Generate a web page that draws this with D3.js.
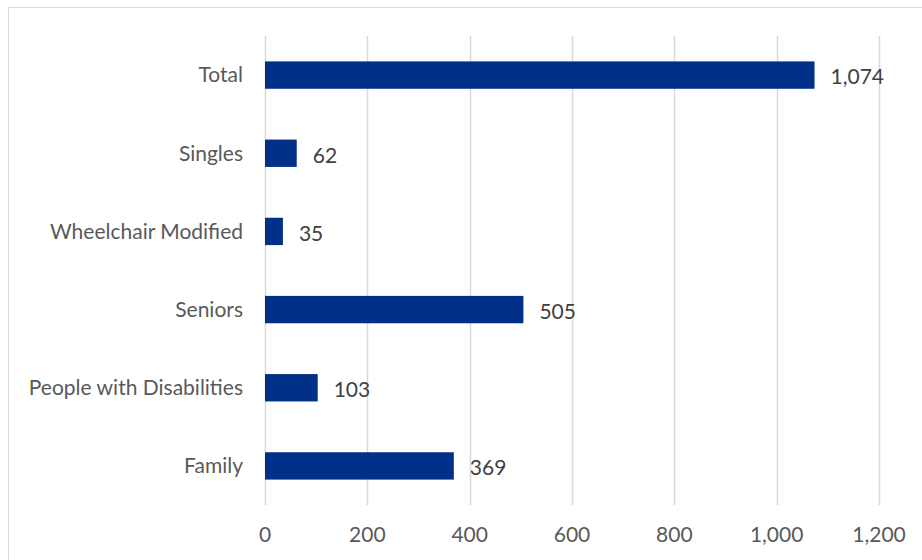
<!DOCTYPE html>
<html>
<head>
<meta charset="utf-8">
<script src="https://cdn.jsdelivr.net/npm/d3@7"></script>
<style>
  body { margin: 0; background: #fff; }
  svg { display: block; font-family: Lato, "Open Sans", sans-serif; }
</style>
</head>
<body>
<svg id="chart" width="922" height="560"></svg>
<script>
const categories = ["Total", "Singles", "Wheelchair Modified", "Seniors", "People with Disabilities", "Family"];
const values = [1074, 62, 35, 505, 103, 369];
const ticks = [0, 200, 400, 600, 800, 1000, 1200];

const svg = d3.select("#chart");
const margin = {top: 36, left: 265, right: 43, bottom: 55};
const width = 922, height = 560;

// frame
svg.append("rect").attr("x", 8.5).attr("y", 7.5).attr("width", 1000).attr("height", 1000)
  .attr("fill", "none").attr("stroke", "#d9d9d9");

const x = d3.scaleLinear().domain([0, 1200]).range([margin.left, width - margin.right]);
const y = d3.scaleBand().domain(categories).range([margin.top, height - margin.bottom]).paddingInner(0.65).paddingOuter(0.325);

// gridlines
svg.append("g").selectAll("line").data(ticks).join("line")
  .attr("x1", d => Math.round(x(d)) + 0.5).attr("x2", d => Math.round(x(d)) + 0.5)
  .attr("y1", margin.top).attr("y2", height - margin.bottom)
  .attr("stroke", "#d9d9d9").attr("stroke-width", 1.5);

// x tick labels
svg.append("g").selectAll("text").data(ticks).join("text")
  .attr("x", d => x(d)).attr("y", 542)
  .attr("text-anchor", "middle").attr("fill", "#595959").attr("font-size", 21)
  .text(d => d3.format(",")(d));

// bars
svg.append("g").selectAll("rect").data(values).join("rect")
  .attr("x", x(0)).attr("y", (d, i) => y(categories[i]))
  .attr("width", d => x(d) - x(0)).attr("height", y.bandwidth())
  .attr("fill", "#003087");

// category labels
svg.append("g").selectAll("text").data(categories).join("text")
  .attr("x", margin.left - 22).attr("y", d => y(d) + y.bandwidth() / 2)
  .attr("dy", "0.35em").attr("text-anchor", "end").attr("fill", "#595959").attr("font-size", 21)
  .text(d => d);

// value labels
svg.append("g").selectAll("text").data(values).join("text")
  .attr("x", d => x(d) + 16).attr("y", (d, i) => y(categories[i]) + y.bandwidth() / 2 + 2)
  .attr("dy", "0.35em").attr("fill", "#404040").attr("font-size", 21)
  .text(d => d3.format(",")(d));
</script>
</body>
</html>
